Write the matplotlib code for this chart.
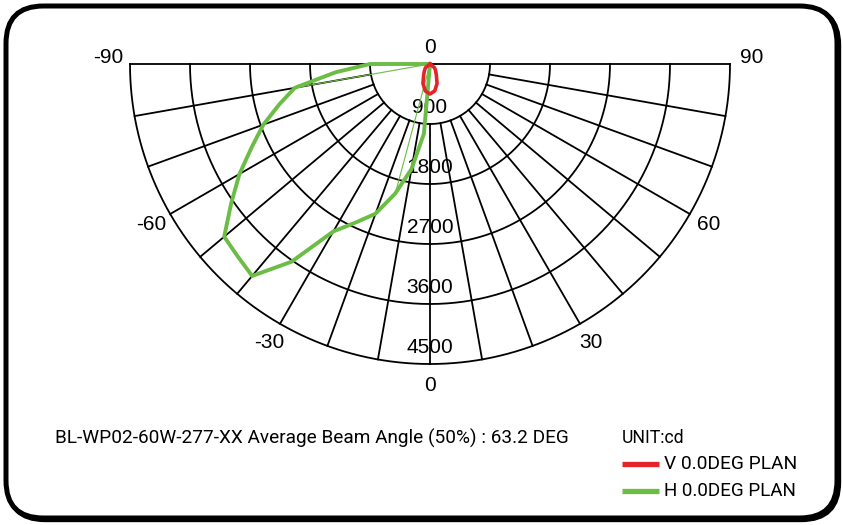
import matplotlib.pyplot as plt
import numpy as np
from matplotlib.patches import FancyBboxPatch

# candela values (angle in degrees, 0 = straight down)
h_angles = [-95, -90, -85, -80, -75, -70, -65, -60, -55, -50, -45, -40, -35,
            -30, -25, -20, -15, -10, -5, 0]
h_values = [0, 900, 1420, 2060, 2340, 2660, 2950, 3300, 3640, 4030, 4080, 4150,
            3620, 2900, 2620, 2390, 2010, 1600, 1050, 0]
h_chords = [-80, -15]   # thin lines from the centre in the original

v_angles = [-60, -50, -40, -30, -20, -10, 0, 10, 20, 30, 40, 50, 60]
v_values = [0, 90, 130, 190, 310, 410, 450, 410, 310, 190, 130, 90, 0]

ring_values = [900, 1800, 2700, 3600, 4500]
ring_labels = ['0', '900', '1800', '2700', '3600', '4500']
spoke_angles = list(range(-80, 90, 10))
angle_ticks = [-90, -60, -30, 0, 30, 60, 90]

title_text = 'BL-WP02-60W-277-XX Average Beam Angle (50%) : 63.2 DEG'
series_names = ['V 0.0DEG PLAN', 'H 0.0DEG PLAN']
red = '#e3242b'
green = '#6cbd45'

plt.rcParams['font.family'] = ['Liberation Sans', 'DejaVu Sans']


def to_xy(ang, r):
    t = np.radians(np.asarray(ang, dtype=float))
    r = np.asarray(r, dtype=float)
    return r * np.sin(t), -r * np.cos(t)


S = 15.0          # cd per pixel
cx, cy = 430, 64  # centre of the diagram in pixels
W, H = 843, 525

fig = plt.figure(figsize=(W / 100, H / 100), dpi=100)
ax = fig.add_axes([0, 0, 1, 1])
ax.set_xlim(-cx * S, (W - cx) * S)
ax.set_ylim(-(H - cy) * S, cy * S)
ax.axis('off')


def px(x, y):
    return (x - cx) * S, (cy - y) * S


# rounded frame
x0, y0 = px(6, 518)
x1, y1 = px(837, 6)
shadow = FancyBboxPatch((x0 + 25, y0 - 25), x1 - x0, y1 - y0,
                        boxstyle='round,pad=0,rounding_size=560',
                        fc='none', ec='black', lw=3.6, zorder=0)
ax.add_patch(shadow)
frame = FancyBboxPatch((x0, y0), x1 - x0, y1 - y0,
                       boxstyle='round,pad=0,rounding_size=560',
                       fc='white', ec='black', lw=3.6, zorder=1)
ax.add_patch(frame)

# grid: half rings, spokes, top line
arc = np.linspace(-90, 90, 361)
for rv in ring_values:
    gx, gy = to_xy(arc, np.full_like(arc, rv))
    ax.plot(gx, gy, color='black', lw=1.3, zorder=2)
for a in spoke_angles:
    gx, gy = to_xy([a, a], [ring_values[0], ring_values[-1]])
    ax.plot(gx, gy, color='black', lw=1.3, zorder=2)
ax.plot([-ring_values[-1], ring_values[-1]], [0, 0], color='black', lw=1.3, zorder=2)

# ring labels down the middle
for i, lab in enumerate(ring_labels):
    rv = 0 if i == 0 else ring_values[i - 1]
    ax.text(0, -(rv - 250), lab, ha='center', va='center', fontsize=15, zorder=4)

# angle labels around the outside
for a in angle_ticks:
    lx, ly = to_xy(a, 4820)
    if abs(a) == 90:
        ly += 100
    ax.text(lx, ly, str(a), ha='center', va='center', fontsize=15, zorder=4)

# curves
hx, hy = to_xy(h_angles, h_values)
ax.plot(hx, hy, color=green, lw=2.8, zorder=5, solid_joinstyle='miter')
for a in h_chords:
    r = h_values[h_angles.index(a)]
    tx, ty = to_xy([a, a], [0, r])
    ax.plot(tx, ty, color=green, lw=0.8, zorder=5)
vx, vy = to_xy(v_angles, v_values)
ax.plot(vx, vy, color=red, lw=2.6, zorder=6)

# bottom texts and legend, sized to the widths seen in the reference
renderer = fig.canvas.get_renderer()


def fitted_text(x, y, s, width_px):
    t = ax.text(x, y, s, ha='left', va='center', fontsize=15,
                family=['Roboto', 'DejaVu Sans'])
    w = t.get_window_extent(renderer).width
    t.set_fontsize(15 * width_px / w)
    return t


tx, ty = px(55, 438)
fitted_text(tx, ty, title_text, 512)
ux, uy = px(622, 438)
fitted_text(ux, uy, 'UNIT:cd', 63)
for name, col, yy in zip(series_names, [red, green], [464, 491]):
    lx0, ly = px(622, yy)
    lx1, _ = px(659, yy)
    ax.plot([lx0, lx1], [ly, ly], color=col, lw=3.8, solid_capstyle='butt')
    nx, _ = px(664, yy)
    fitted_text(nx, ly, name, 133)

fig.savefig('out.png', dpi=100)
